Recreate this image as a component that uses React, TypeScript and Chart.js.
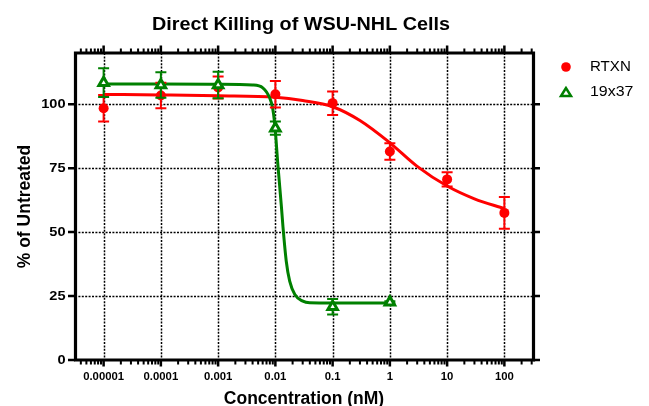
import React, { useEffect, useRef } from 'react';
import { Chart, registerables } from 'chart.js';

Chart.register(...registerables);

// ---------- text ----------
const chartTitle = 'Direct Killing of WSU-NHL Cells';
const xAxisTitle = 'Concentration (nM)';
const yAxisTitle = '% of Untreated';
const seriesNames = ['RTXN', '19x37'];

// ---------- axes ----------
const xTickValues = [1e-5, 1e-4, 1e-3, 1e-2, 1e-1, 1, 10, 100];
const xTickLabels = ['0.00001', '0.0001', '0.001', '0.01', '0.1', '1', '10', '100'];
const yTickValues = [0, 25, 50, 75, 100];
const yTickLabels = ['0', '25', '50', '75', '100'];
const xRangeMin = 3.1623e-6;
const xRangeMax = 316.23;
const yRangeMin = 0;
const yRangeMax = 120;

// ---------- measured points (mean, error) ----------
const rtxnConc = [1e-5, 1e-4, 1e-3, 1e-2, 1e-1, 1, 10, 100];
const rtxnMean = [98.4, 103.4, 106.5, 103.9, 100.4, 81.5, 70.6, 57.5];
const rtxnErr = [5.2, 5.0, 4.3, 5.2, 4.6, 3.2, 2.8, 6.2];

const c19x37Conc = [1e-5, 1e-4, 1e-3, 1e-2, 1e-1, 1];
const c19x37Mean = [108.4, 107.5, 107.5, 90.6, 20.8, 22.6];
const c19x37Err = [5.6, 5.0, 5.2, 2.6, 3.0, 0.4];

// ---------- fitted curves ----------
const rtxnFitX = [1e-5, 1e-4, 1e-3, 1e-2, 3e-2, 1e-1, 3e-1, 1, 3, 10, 30, 100];
const rtxnFitY = [103.8, 103.6, 103.3, 102.7, 101.4, 99.0, 93.6, 84.9, 75.7, 68.0, 63.0, 59.2];

const c19x37FitX = [1e-5, 1e-4, 1e-3, 0.00398, 0.00603, 0.00794, 0.00891, 0.00977, 0.01109, 0.01274, 0.01358, 0.01549, 0.01778, 0.02188, 0.0302, 0.0398, 0.1, 1];
const c19x37FitY = [107.9, 107.9, 107.8, 107.5, 106.4, 102.5, 98.8, 92.0, 76.0, 60.0, 52.0, 38.6, 30.8, 25.6, 23.0, 22.4, 22.3, 22.3];

const RED = '#ff0000';
const GREEN = '#008000';
const FONT = '"Liberation Sans", Arial, Helvetica, sans-serif';

function drawText(
  ctx: CanvasRenderingContext2D,
  s: string,
  x: number,
  y: number,
  font: string,
  align: CanvasTextAlign,
  baseline: CanvasTextBaseline,
  sx = 1,
  rot = 0
) {
  ctx.save();
  ctx.translate(x, y);
  if (rot) ctx.rotate(rot);
  ctx.scale(sx, 1);
  ctx.font = font;
  ctx.textAlign = align;
  ctx.textBaseline = baseline;
  ctx.fillStyle = '#000';
  ctx.fillText(s, 0, 0);
  ctx.restore();
}

function minorTicks(): number[] {
  const out: number[] = [];
  for (let e = -6; e <= 2; e++) {
    for (let m = 2; m <= 9; m++) {
      const v = m * Math.pow(10, e);
      if (v > xRangeMin && v < xRangeMax) out.push(v);
    }
  }
  return out;
}

const gridPlugin = {
  id: 'prismGrid',
  beforeDatasetsDraw(chart: any) {
    const { ctx, chartArea: a, scales } = chart;
    const xs = scales.x;
    const ys = scales.y;
    ctx.save();
    ctx.strokeStyle = '#000';
    ctx.lineWidth = 1.5;
    ctx.setLineDash([2, 1.4]);
    xTickValues.forEach((v) => {
      const px = Math.round(xs.getPixelForValue(v)) + 0.5;
      ctx.beginPath();
      ctx.moveTo(px, a.top);
      ctx.lineTo(px, a.bottom);
      ctx.stroke();
    });
    yTickValues.forEach((v) => {
      if (v === yRangeMin) return;
      const py = Math.round(ys.getPixelForValue(v)) + 0.5;
      ctx.beginPath();
      ctx.moveTo(a.left, py);
      ctx.lineTo(a.right, py);
      ctx.stroke();
    });
    ctx.restore();
  },
};

const errorBarPlugin = {
  id: 'errorBars',
  beforeDatasetDraw(chart: any, args: any) {
    const ds = chart.data.datasets[args.index];
    if (!ds.errors) return;
    const { ctx, scales } = chart;
    const xs = scales.x;
    const ys = scales.y;
    ctx.save();
    ctx.strokeStyle = ds.borderColor;
    ctx.lineWidth = 2;
    ds.data.forEach((p: any, i: number) => {
      const e = ds.errors[i];
      const px = xs.getPixelForValue(p.x);
      const top = ys.getPixelForValue(p.y + e);
      const bot = ys.getPixelForValue(p.y - e);
      ctx.beginPath();
      ctx.moveTo(px, top);
      ctx.lineTo(px, bot);
      ctx.moveTo(px - 5.5, top);
      ctx.lineTo(px + 5.5, top);
      ctx.moveTo(px - 5.5, bot);
      ctx.lineTo(px + 5.5, bot);
      ctx.stroke();
    });
    ctx.restore();
  },
};

const framePlugin = {
  id: 'prismFrame',
  afterDraw(chart: any) {
    const { ctx, chartArea: a, scales } = chart;
    const xs = scales.x;
    const ys = scales.y;
    ctx.save();
    ctx.strokeStyle = '#000';
    ctx.lineCap = 'butt';

    // axis ticks
    const minors = minorTicks();
    ctx.lineWidth = 2;
    minors.forEach((v) => {
      const px = xs.getPixelForValue(v);
      ctx.beginPath();
      ctx.moveTo(px, a.bottom);
      ctx.lineTo(px, a.bottom + 4.5);
      ctx.moveTo(px, a.top);
      ctx.lineTo(px, a.top - 4.5);
      ctx.stroke();
    });
    ctx.lineWidth = 2.5;
    xTickValues.forEach((v) => {
      const px = xs.getPixelForValue(v);
      ctx.beginPath();
      ctx.moveTo(px, a.bottom);
      ctx.lineTo(px, a.bottom + 6.5);
      ctx.moveTo(px, a.top);
      ctx.lineTo(px, a.top - 7.5);
      ctx.stroke();
    });
    yTickValues.forEach((v) => {
      const py = ys.getPixelForValue(v);
      ctx.beginPath();
      ctx.moveTo(a.left, py);
      ctx.lineTo(a.left - 7, py);
      ctx.moveTo(a.right, py);
      ctx.lineTo(a.right + 7, py);
      ctx.stroke();
    });

    // frame
    ctx.lineWidth = 3.2;
    ctx.beginPath();
    ctx.rect(a.left + 0.5, a.top, a.right - a.left, a.bottom - a.top);
    ctx.stroke();
    ctx.restore();

    // tick labels
    xTickValues.forEach((v, i) => {
      drawText(ctx, xTickLabels[i], xs.getPixelForValue(v), 377, `bold 11px ${FONT}`, 'center', 'middle', 1.03);
    });
    yTickValues.forEach((v, i) => {
      drawText(ctx, yTickLabels[i], 65.5, ys.getPixelForValue(v) + 0.5, `bold 13.5px ${FONT}`, 'right', 'middle', 1.08);
    });

    // titles
    const cx = (a.left + a.right) / 2;
    drawText(ctx, chartTitle, cx - 3, 30, `bold 18px ${FONT}`, 'center', 'alphabetic', 1.1);
    drawText(ctx, xAxisTitle, cx, 403.5, `bold 17.5px ${FONT}`, 'center', 'alphabetic', 1);
    drawText(ctx, yAxisTitle, 25.5, (a.top + a.bottom) / 2, `bold 17.5px ${FONT}`, 'center', 'middle', 1, -Math.PI / 2);

    // legend
    ctx.save();
    ctx.fillStyle = RED;
    ctx.beginPath();
    ctx.arc(566, 67, 4.8, 0, Math.PI * 2);
    ctx.fill();
    ctx.strokeStyle = GREEN;
    ctx.fillStyle = '#fff';
    ctx.lineWidth = 2.5;
    ctx.beginPath();
    ctx.moveTo(566, 88);
    ctx.lineTo(561, 96);
    ctx.lineTo(571, 96);
    ctx.closePath();
    ctx.fill();
    ctx.stroke();
    ctx.restore();
    drawText(ctx, seriesNames[0], 590, 66.5, `14.5px ${FONT}`, 'left', 'middle', 1.04);
    drawText(ctx, seriesNames[1], 590, 92, `14.5px ${FONT}`, 'left', 'middle', 1.1);
  },
};

export default function App() {
  const ref = useRef<HTMLCanvasElement | null>(null);

  useEffect(() => {
    document.body.style.margin = '0';
    const canvas = ref.current;
    if (!canvas) return;
    const chart = new Chart(canvas, {
      type: 'scatter',
      data: {
        datasets: [
          {
            label: seriesNames[1],
            data: c19x37Conc.map((x, i) => ({ x, y: c19x37Mean[i] })),
            errors: c19x37Err,
            showLine: false,
            pointStyle: 'triangle',
            pointRadius: 5.5,
            backgroundColor: '#ffffff',
            borderColor: GREEN,
            borderWidth: 3,
            order: 1,
          } as any,
          {
            label: seriesNames[0],
            data: rtxnConc.map((x, i) => ({ x, y: rtxnMean[i] })),
            errors: rtxnErr,
            showLine: false,
            pointStyle: 'circle',
            pointRadius: 5,
            backgroundColor: RED,
            borderColor: RED,
            borderWidth: 0,
            order: 2,
          } as any,
          {
            type: 'line',
            label: seriesNames[1] + ' fit',
            data: c19x37FitX.map((x, i) => ({ x, y: c19x37FitY[i] })),
            borderColor: GREEN,
            borderWidth: 3,
            pointRadius: 0,
            fill: false,
            cubicInterpolationMode: 'monotone',
            order: 3,
          } as any,
          {
            type: 'line',
            label: seriesNames[0] + ' fit',
            data: rtxnFitX.map((x, i) => ({ x, y: rtxnFitY[i] })),
            borderColor: RED,
            borderWidth: 3,
            pointRadius: 0,
            fill: false,
            cubicInterpolationMode: 'monotone',
            order: 4,
          } as any,
        ],
      },
      options: {
        animation: false,
        responsive: false,
        devicePixelRatio: 1,
        layout: { padding: { left: 75, right: 116, top: 53, bottom: 46 } },
        scales: {
          x: { type: 'logarithmic', min: xRangeMin, max: xRangeMax, display: false },
          y: { type: 'linear', min: yRangeMin, max: yRangeMax, display: false },
        },
        plugins: {
          legend: { display: false },
          tooltip: { enabled: false },
          title: { display: false },
        },
      },
      plugins: [gridPlugin, errorBarPlugin, framePlugin],
    } as any);
    return () => chart.destroy();
  }, []);

  return (
    <div style={{ width: 649, height: 406, background: '#fff' }}>
      <canvas ref={ref} width={649} height={406} style={{ display: 'block' }} />
    </div>
  );
}
